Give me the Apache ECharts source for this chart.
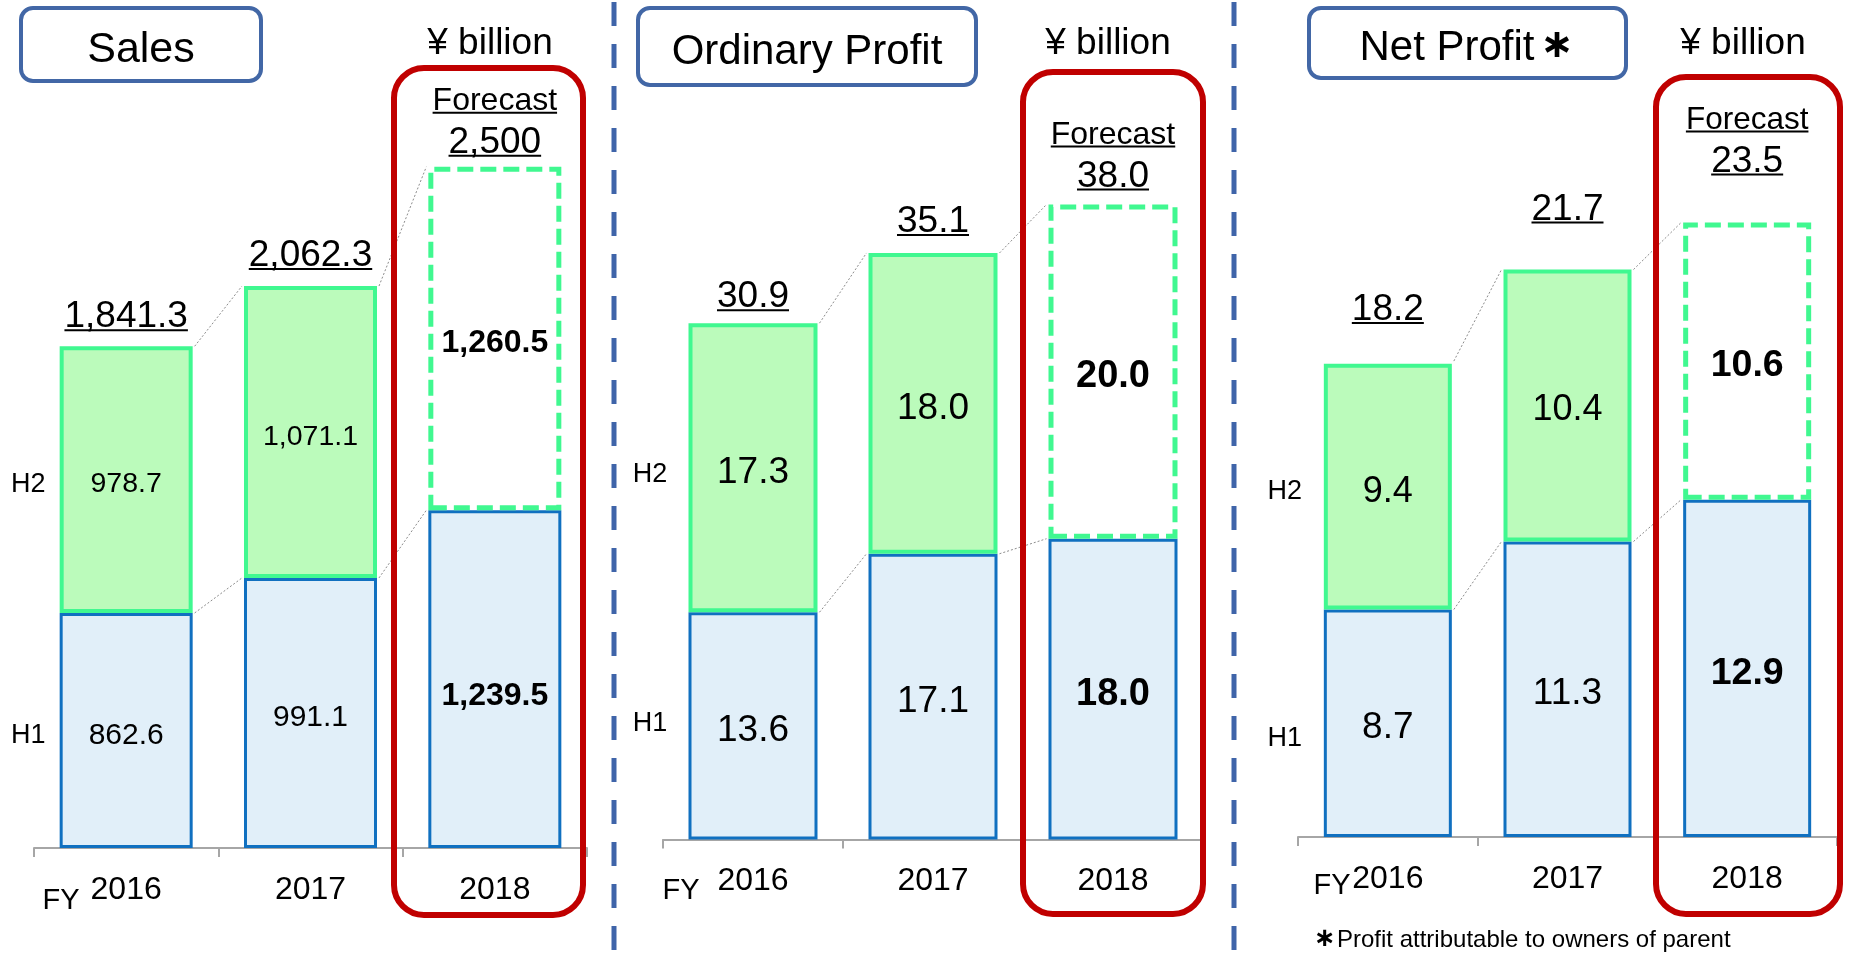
<!DOCTYPE html>
<html>
<head>
<meta charset="utf-8">
<title>Sales, Ordinary Profit, Net Profit</title>
<script src="https://cdn.jsdelivr.net/npm/echarts@6/dist/echarts.min.js"></script>
<style>
  html, body { margin: 0; padding: 0; background: #fff; }
  #chart { width: 1849px; height: 963px; }
</style>
</head>
<body>
<div id="chart"></div>
<script>
// data (¥ billion)
const years = ["2016", "2017", "2018"];
const salesH1 = [862.6, 991.1, 1239.5];
const salesH2 = [978.7, 1071.1, 1260.5];
const salesTotal = [1841.3, 2062.3, 2500];
const opH1 = [13.6, 17.1, 18.0];
const opH2 = [17.3, 18.0, 20.0];
const opTotal = [30.9, 35.1, 38.0];
const netH1 = [8.7, 11.3, 12.9];
const netH2 = [9.4, 10.4, 10.6];
const netTotal = [18.2, 21.7, 23.5];
const rowNames = ["H1", "H2"];
const forecastIndex = 2;

const FONT = "'Liberation Sans', Arial, sans-serif";
const BLUE_FILL = "#e1eff9", BLUE_LINE = "#1070c0";
const GREEN_FILL = "#bbfbbb", GREEN_LINE = "#40f890";
// canvas "middle" puts Liberation glyphs a little high; push them down
const TEXT_DY = 4;

const fmtSales = (v) => v.toLocaleString("en-US", { maximumFractionDigits: 1 });
const fmtOne = (v) => v.toFixed(1);

const panels = [
  {
    title: "Sales", h1: salesH1, h2: salesH2, total: salesTotal, fmt: fmtSales,
    left: 34, width: 553, top: 30.5, bottom: 115, max: 3000, barWidth: 133,
    h1Font: 30, h2Font: 28.5, boldFont: 32, totalFont: 37, fcFont: 32,
    gaps: [20, 21, 15], rowDx: -98, rowDy: [5, 5],
    box: [21, 8, 240, 73], titleX: 141, titleBase: 61, titleFont: 43,
    unitX: 490, red: [394, 68, 189, 847], fy: [61, 907], h1Offset: [0, 17]
  },
  {
    title: "Ordinary Profit", h1: opH1, h2: opH2, total: opTotal, fmt: fmtOne,
    left: 663, width: 540, top: 4, bottom: 123.5, max: 50, barWidth: 129,
    h1Font: 37, h2Font: 37, boldFont: 38, totalFont: 37, fcFont: 32,
    gaps: [17, 22, 19], rowDx: -103, rowDy: [-2, 7],
    box: [638, 8, 338, 77], titleX: 807, titleBase: 63, titleFont: 42,
    unitX: 1108, red: [1023, 72, 180, 842], fy: [681, 897], h1Offset: [0, 5]
  },
  {
    title: "Net Profit", h1: netH1, h2: netH2, total: netTotal, fmt: fmtOne,
    left: 1298, width: 539, top: 52.5, bottom: 126, max: 30, barWidth: 128,
    h1Font: 37, h2Font: 36, boldFont: 37.5, totalFont: 37, fcFont: 31.5,
    gaps: [42, 51, 52], rowDx: -103, rowDy: [15, 5],
    box: [1309, 8, 317, 70], titleX: 1447, titleBase: 59, titleFont: 42,
    unitX: 1743, red: [1656, 77, 184, 837], fy: [1332, 892], h1Offset: [0, 5],
    mark: [1557, 47]
  }
];

const measureCtx = document.createElement("canvas").getContext("2d");
function textWidth(text, size) {
  measureCtx.font = size + "px " + FONT;
  return measureCtx.measureText(text).width;
}

// text placed by its baseline
function textEl(text, x, base, size, extra) {
  return Object.assign({
    type: "text",
    style: {
      text: text, x: x, y: base - 0.35 * size + TEXT_DY, fontSize: size, fontFamily: FONT,
      fill: "#000", align: "center", verticalAlign: "middle"
    }
  }, extra || {});
}

function markEl(x, y, size) {
  return {
    type: "text", silent: true,
    style: {
      text: "∗", x: x, y: y, fontSize: size, fontFamily: "'DejaVu Sans'", fontWeight: "bold",
      fill: "#000", align: "center", verticalAlign: "middle"
    }
  };
}

// thin dotted lines joining the top corners of neighbouring bars
function connectorRender(hw) {
  return function (params, api) {
    const i = api.value(0);
    const a = api.coord([i, api.value(1)]);
    const b = api.coord([i + 1, api.value(2)]);
    return {
      type: "line",
      shape: { x1: a[0] + hw, y1: a[1], x2: b[0] - hw, y2: b[1] },
      style: { stroke: "#8c8c8c", lineWidth: 1, lineDash: [2, 2] }
    };
  };
}

// underlined totals, with "Forecast" above the forecast year
function totalsRender(p) {
  return function (params, api) {
    const i = api.value(0);
    const pt = api.coord([i, api.value(1)]);
    const base = pt[1] - p.gaps[i];
    const lines = [{ text: p.fmt(p.total[i]), size: p.totalFont, base: base }];
    if (i === forecastIndex) lines.push({ text: "Forecast", size: p.fcFont, base: base - 43 });
    const children = [];
    lines.forEach(function (l) {
      const w = textWidth(l.text, l.size);
      children.push(textEl(l.text, pt[0], l.base, l.size));
      children.push({
        type: "line",
        shape: { x1: pt[0] - w / 2, y1: l.base + 4, x2: pt[0] + w / 2, y2: l.base + 4 },
        style: { stroke: "#000", lineWidth: 2 }
      });
    });
    return { type: "group", children: children };
  };
}

// "H1" / "H2" row names left of the first bar
function rowRender(p) {
  return function (params, api) {
    const pt = api.coord([api.value(0), api.value(1)]);
    const k = params.dataIndex;
    return {
      type: "text",
      style: {
        text: rowNames[k], x: pt[0] + p.rowDx, y: pt[1] + p.rowDy[k], fontSize: 27,
        fontFamily: FONT, fill: "#000", align: "center", verticalAlign: "middle"
      }
    };
  };
}

const series = [];
panels.forEach(function (p, k) {
  const hw = (p.barWidth + 4) / 2;
  series.push({
    type: "bar", name: "H1", stack: "s" + k, xAxisIndex: k, yAxisIndex: k,
    barWidth: p.barWidth,
    itemStyle: { color: BLUE_FILL, borderColor: BLUE_LINE, borderWidth: 3 },
    label: {
      show: true, position: "inside", offset: [0, 5], color: "#000", fontFamily: FONT,
      fontSize: p.h1Font,
      formatter: function (d) { return p.fmt(d.value); }
    },
    data: p.h1.map(function (v, i) {
      return i === forecastIndex
        ? { value: v, label: { fontWeight: "bold", fontSize: p.boldFont, offset: p.h1Offset } }
        : v;
    })
  });
  series.push({
    type: "bar", name: "H2", stack: "s" + k, xAxisIndex: k, yAxisIndex: k,
    barWidth: p.barWidth,
    itemStyle: { color: GREEN_FILL, borderColor: GREEN_LINE, borderWidth: 4 },
    label: {
      show: true, position: "inside", offset: [0, 5], color: "#000", fontFamily: FONT,
      fontSize: p.h2Font,
      formatter: function (d) { return p.fmt(d.value); }
    },
    data: p.h2.map(function (v, i) {
      return i === forecastIndex
        ? {
            value: v,
            itemStyle: { color: "#ffffff", borderColor: GREEN_LINE, borderWidth: 5, borderType: [16, 7] },
            label: { fontWeight: "bold", fontSize: p.boldFont }
          }
        : v;
    })
  });
  const links = [];
  for (let i = 0; i < years.length - 1; i++) {
    links.push([i, p.h1[i], p.h1[i + 1]]);
    links.push([i, p.total[i], p.total[i + 1]]);
  }
  series.push({
    type: "custom", xAxisIndex: k, yAxisIndex: k, silent: true, z: 3,
    encode: { x: 0, y: [1, 2] },
    renderItem: connectorRender(hw),
    data: links
  });
  series.push({
    type: "custom", xAxisIndex: k, yAxisIndex: k, silent: true, z: 3,
    encode: { x: 0, y: 1 },
    renderItem: totalsRender(p),
    data: p.total.map(function (v, i) { return [i, v]; })
  });
  series.push({
    type: "custom", xAxisIndex: k, yAxisIndex: k, silent: true, z: 3,
    encode: { x: 0, y: 1 },
    renderItem: rowRender(p),
    data: [[0, p.h1[0] / 2], [0, p.h1[0] + p.h2[0] / 2]]
  });
});

const graphic = [];
[614, 1234].forEach(function (x) {
  graphic.push({
    type: "line", silent: true, z: 0,
    shape: { x1: x, y1: 2, x2: x, y2: 963 },
    style: { stroke: "#3f64a9", lineWidth: 5, lineDash: [24, 18] }
  });
});
panels.forEach(function (p) {
  graphic.push({
    type: "rect", silent: true,
    shape: { x: p.box[0], y: p.box[1], width: p.box[2], height: p.box[3], r: 12 },
    style: { fill: "#fff", stroke: "#4267a6", lineWidth: 4 }
  });
  graphic.push(textEl(p.title, p.titleX, p.titleBase, p.titleFont, { silent: true }));
  if (p.mark) graphic.push(markEl(p.mark[0], p.mark[1], 40));
  graphic.push(textEl("¥ billion", p.unitX, 53, 37, { silent: true }));
  graphic.push({
    type: "rect", silent: true, z: 10,
    shape: { x: p.red[0], y: p.red[1], width: p.red[2], height: p.red[3], r: 30 },
    style: { fill: "none", stroke: "#c00000", lineWidth: 6 }
  });
  graphic.push(textEl("FY", p.fy[0], p.fy[1], 29, { silent: true }));
});
graphic.push(markEl(1325, 939, 26));
graphic.push({
  type: "text", silent: true,
  style: {
    text: "Profit attributable to owners of parent", x: 1337, y: 945 - 0.35 * 24 + TEXT_DY,
    fontSize: 24, fontFamily: FONT, fill: "#000", align: "left", verticalAlign: "middle"
  }
});

const chart = echarts.init(document.getElementById("chart"), null, { renderer: "canvas" });
chart.setOption({
  animation: false,
  backgroundColor: "#fff",
  textStyle: { fontFamily: FONT },
  grid: panels.map(function (p) {
    return { left: p.left, width: p.width, top: p.top, bottom: p.bottom, containLabel: false, outerBoundsMode: "none" };
  }),
  xAxis: panels.map(function (p, k) {
    return {
      type: "category", gridIndex: k, data: years,
      axisLine: { show: true, lineStyle: { color: "#a6a6a6", width: 2 } },
      axisTick: { show: true, interval: 0, length: 9, lineStyle: { color: "#a6a6a6", width: 2 } },
      axisLabel: { interval: 0, margin: 26, fontSize: 32, color: "#000", fontFamily: FONT },
      splitLine: { show: false }
    };
  }),
  yAxis: panels.map(function (p, k) {
    return { type: "value", gridIndex: k, min: 0, max: p.max, show: false, splitLine: { show: false } };
  }),
  series: series,
  graphic: graphic
});
</script>
</body>
</html>
